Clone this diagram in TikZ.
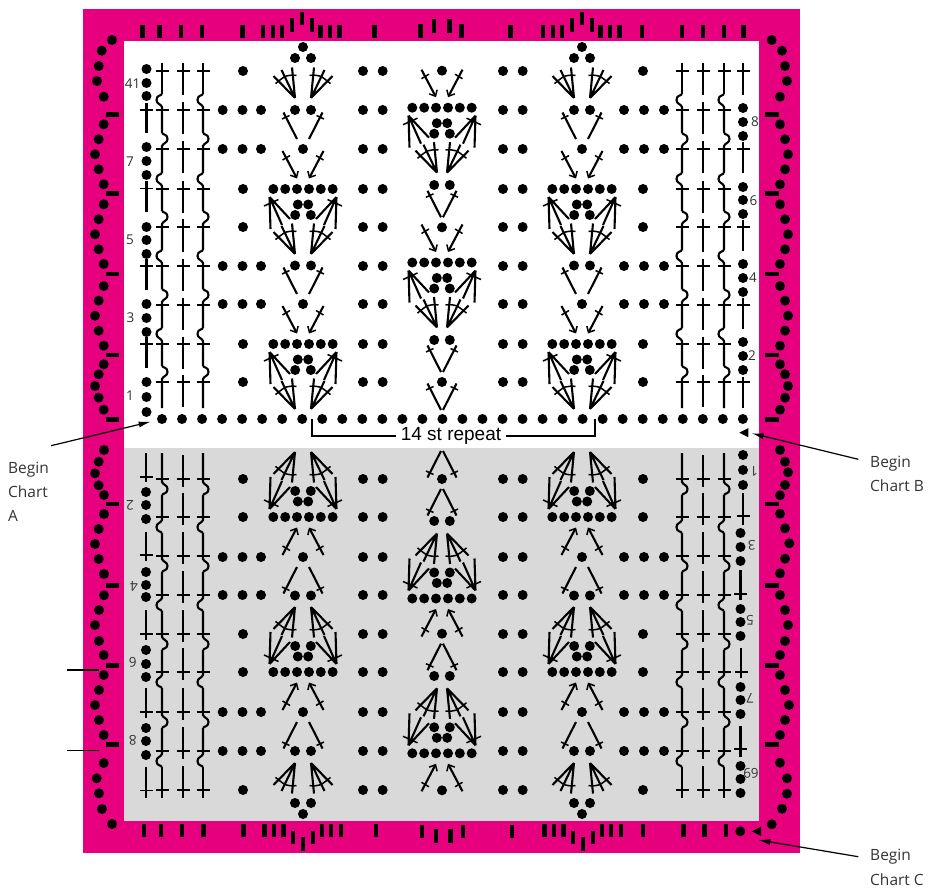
\documentclass[tikz,border=0pt]{standalone}
\usepackage{fontspec}
\setmainfont{Open Sans}
\newfontfamily\arialfont{Liberation Sans}
\usetikzlibrary{arrows.meta}
\definecolor{pinkband}{HTML}{E6007E}
\definecolor{greyfield}{HTML}{D9D9D9}
\definecolor{labelgrey}{HTML}{333333}
\tikzset{
  stem/.style={line width=2.1pt,black},
  crossbar/.style={line width=1.5pt,black},
  note/.style={line width=1.2pt,black},
  arrowstem/.style={line width=2.1pt,black,-{Straight Barb[length=5pt,width=9pt,line width=1.5pt]}},
  notearrow/.style={line width=1.2pt,black,-{Latex[length=12pt,width=6pt]}},
  chartnum/.style={inner sep=0pt,font=\fontsize{13.5}{15}\selectfont,text=labelgrey},
  beginlab/.style={inner sep=0pt,anchor=west,font=\fontsize{15.5}{18}\selectfont,text=labelgrey}
}
% ---------- helpers
\newcommand\blob[2]{\fill[black] (#1,#2) circle (5pt);}
\newcommand\fanstems{%
  \draw[stem] (0,0)--(-21.5,-22) (0,0)--(-13.5,-28) (0,0)--(-3,-30.5);
  \draw[crossbar] (-19.5,-14.4) .. controls (-9,-23) .. (1.5,-22.7);
}
% half of the big motif; origin at the centre of the six-dot row; #1 apex offset
\newcommand\halfmotif[1]{%
  \foreach \a in {6,17.8,29.7}{\fill[black] (-\a,0) circle (5pt);}
  \fill[black] (-5.2,15.5) circle (5pt);
  \fill[black] (-7.8,26) circle (5pt);
  \draw[stem] (-33.5,8)--(-32.5,40) (-33.5,8)--(-21,36) (-33.5,8)--(-13,30);
  \draw[crossbar] (-39,17)--(-24.5,10.5);
  \begin{scope}[shift={(-#1,65)}]\fanstems\end{scope}
  \draw[arrowstem] (-20.5,-38)--(-6,-10.5);
  \draw[crossbar] (-20.5,-29)--(-13,-33.5);
}
\newcommand\bigmotif[3]{%
  \begin{scope}[shift={(#1,#2)}]
    \halfmotif{#3}
    \begin{scope}[xscale=-1]\halfmotif{#3}\end{scope}
  \end{scope}}
% pair of stems running up from a point; #3 half gap
\newcommand\halfvee[1]{%
  \draw[stem] (-#1,-10)--(-#1-13.5,-36.5);
  \draw[crossbar] (-#1-15,-30)--(-#1-7.5,-33.5);
}
\newcommand\veepair[3]{%
  \begin{scope}[shift={(#1,#2)}]
    \halfvee{#3}
    \begin{scope}[xscale=-1]\halfvee{#3}\end{scope}
  \end{scope}}
\newcommand\topfan[2]{%
  \begin{scope}[shift={(#1-8,#2)}]\fanstems\end{scope}
  \begin{scope}[shift={(#1+8,#2)},xscale=-1]\fanstems\end{scope}}
\newcommand\tallst[4]{%
  \draw[stem] (#1,#2)--(#1,#3);
  \draw[crossbar] (#1-6.5,#4)--(#1+6.5,#4);}
\newcommand\plaincol[1]{%
  \foreach \r in {71,110,149,189,227,266,305,344,382}{%
    \draw[stem] (#1,\r-7.5)--(#1,\r+24.5);
    \draw[crossbar] (#1-6.5,\r)--(#1+6.5,\r);}}
\newcommand\wigcol[1]{%
  \draw[stem] (#1,63)--(#1,94);
  \draw[crossbar] (#1-6.5,71)--(#1+6.5,71);
  \foreach \r/\s/\e in {110/-1/133,149/1/173,189/-1/211,227/1/250,266/-1/289,305/1/328,344/-1/366,382/1/408}{%
    \draw[stem] (#1,\r-16) .. controls (#1+\s*1,\r-14) and (#1+\s*5.5,\r-15) .. (#1+\s*5.5,\r-10)
      .. controls (#1+\s*5.5,\r-6) and (#1+\s*1,\r-6) .. (#1,\r-3) -- (#1,\e);
    \draw[crossbar] (#1-6.5,\r)--(#1+6.5,\r);}}
% one half of the field (upper); the lower half is its mirror image
\newcommand\fieldhalf{%
  \plaincol{183}\plaincol{703}
  \wigcol{162}\wigcol{203}\wigcol{682}\wigcol{724}
  \foreach \y in {71,189,227,344,382}{\blob{243}{\y}\blob{643}{\y}}
  \foreach \y in {110,149,266,304}{\foreach \x in {222.7,242.5,261,624,644,664}{\blob{\x}{\y}}}
  \foreach \y in {71,110,149,189,227,266,304,344,382}{\foreach \x in {363,382.7,503,522.7}{\blob{\x}{\y}}}
  % outer motifs
  \foreach \c in {303,582}{%
    \blob{\c}{47}\blob{\c-8}{58}\blob{\c+8}{58}
    \topfan{\c}{98}
    \blob{\c-8}{110}\blob{\c+8}{110}
    \veepair{\c}{149}{6}
    \blob{\c}{149}
    \bigmotif{\c}{189}{8}
    \blob{\c-8}{265.5}\blob{\c+8}{265.5}
    \veepair{\c}{304}{6}
    \blob{\c}{304}
    \bigmotif{\c}{344}{8}
  }
  % middle motif
  \blob{442}{70.7}
  \bigmotif{442}{107.7}{5}
  \blob{434.2}{185}\blob{449.8}{185}
  \veepair{442}{227.3}{1}
  \blob{442}{227.3}
  \bigmotif{442}{262.5}{5}
  \blob{434.2}{340}\blob{449.8}{340}
  \veepair{442}{382}{1}
  \blob{442}{382}
  \veepair{442}{420}{1}
}
\begin{document}
\begin{tikzpicture}[x=1pt,y=-1pt]
\useasboundingbox (0,0) rectangle (930,888);
% band and field
\fill[pinkband] (83,9) rectangle (800,853);
\fill[white] (124,41) rectangle (759,448);
\fill[greyfield] (124,448) rectangle (759,821);
% band dots: left
\foreach \x/\y in {112/40,101.7/50.7,98.7/66,97/81,103.7/96.7,103.7/124.3,98.7/139.3,95/154.3,98.7/169.3,103.7/184.3,
  103.7/204.3,98.7/219.3,95/234.3,98.7/249.3,103.7/264,103.7/286,98.7/300.7,95/315.7,98.7/330.7,103.7/345.7,
  103.7/364.3,98.7/374.3,95/386,98.7/397.7,103.7/409.7,
  104/450,98.7/461.7,95/473.3,98.7/485.3,104/495,104/514,98.7/529,95/544,98.7/559,104/574,104/595.3,
  99/610,95/625,99/641,103.7/655,103.7/675,99/690,95/705,99/720,103.7/735,103.7/763,96.7/778.3,99/793.3,102/809,112/824}
  {\blob{\x}{\y}}
% band dots: right
\foreach \x/\y in {771.7/40,782/50.7,785/66,787/81,780/96.7,780/124.3,785/139.3,788/154.3,785/169.3,780/184.3,
  780/204.3,785/219.3,788/234.3,785/249.3,780/264,780/286,785/300.7,788/315.7,785/330.7,780/345.7,
  780/364.3,785/374.3,788/386,785/397.7,780/409.7,
  780/450,785/461.7,788/472.3,785/485,780/495.3,780/513.7,785/528.3,789.3/543.3,785/558.7,780/573.3,780/595,
  785/610,788/625,785/641,780/655,780/675,785/690,789/705,785/720,780/735,780/762.7,787/778.3,787/793.7,782/808.7,771.7/824.3}
  {\blob{\x}{\y}}
% band dashes
\foreach \y in {114.7,193.7,273.7,355,419.3,504,585.5,665.3,744.3}{%
  \fill[black] (105.5,\y-2.2) rectangle (119,\y+2.2);
  \fill[black] (765,\y-2.2) rectangle (778.5,\y+2.2);}
% band ticks: top
\foreach \x/\a in {142.3/25,159.3/25,180.7/25,202/25,242.3/25,263/25,272.7/25,282/25,291.7/18.3,301.7/11.7,311.7/18.3,320.3/25,329.7/25,339.3/25,374.3/25,
  420.3/24.3,434/19.3,449.3/19.3,461.3/24.3,510.3/25,
  543/25,552.7/25,562/25,571.7/18.3,581.7/11.7,591.7/18.3,600.3/25,609.7/25,619.3/25,641.7/25,681.7/25,703/25,724/25,743.3/25}
  {\fill[black] (\x-2.2,\a) rectangle (\x+2.2,\a+13.3);}
% band ticks: bottom
\foreach \x/\a in {143.7/824,161/824,182/824,203.3/824,243.3/824,264.3/824,274/824,283.3/824,293/830.7,303/837.3,313/830.7,321.7/824,331/824,341/824,375.7/824,
  421.7/825,435.7/829.3,450.3/829.3,462.7/825,511.7/825,
  544.3/824,554/824,563.3/824,573/830.7,583/837.3,593/830.7,601.7/824,611/824,621/824,643/824,683.3/824,704.3/824,725.7/824}
  {\fill[black] (\x-2.2,\a) rectangle (\x+2.2,\a+13.3);}
\blob{740.3}{831.3}
\fill[black] (751.7,831.3)--(761,826.7)--(761,835.9)--cycle;
% mirrored field
\fieldhalf
\begin{scope}[shift={(0,861)},yscale=-1]
  \fieldhalf
\end{scope}
% base row
\foreach \k in {0,...,29}{\fill[black] ({162+20.03*\k},419) circle (5pt);}
% side column top left
\foreach \y in {69,83,96,147,161,175,227,240,254,304,318,332,382,397,412}{\blob{146.5}{\y}}
\tallst{146.5}{103}{133}{110}\tallst{146.5}{181}{212}{188.7}\tallst{146.5}{259}{290}{266}\tallst{146.5}{337}{368}{344}
% side column top right
\foreach \y in {108,122,136,187,200,214,264,278,292,342,356,370}{\blob{743}{\y}}
\tallst{743}{63}{95}{71}\tallst{743}{142}{173}{149}\tallst{743}{220}{251}{227}\tallst{743}{298}{329}{305}\tallst{743}{377}{408}{382}
% side column bottom left
\foreach \y in {492,505,519,572,585,597,650,664,677,728,741,755}{\blob{146}{\y}}
\tallst{146}{453}{482}{477}\tallst{146}{532}{561}{555}\tallst{146}{610}{640}{634}\tallst{146}{688}{718}{712}\tallst{146}{767}{798}{790.5}
% side column bottom right
\foreach \y in {455,470,485}{\blob{743}{\y}}
\foreach \y in {533,547,561,609,622,636,687,700,714,766,779,793}{\blob{740.5}{\y}}
\tallst{743}{493}{525}{516}\tallst{740.5}{570}{600}{594}\tallst{741}{648}{678}{672}\tallst{740.5}{726}{757}{749}
% start marker of chart B
\fill[black] (739.3,432.7)--(748.3,428.2)--(748.3,437.2)--cycle;
% repeat bracket
\node[inner sep=0pt,outer sep=5pt,font=\arialfont\fontsize{19}{22}\selectfont] (rep) at (451,436) {14 st repeat};
\coordinate (bl) at (312.3,418.5);
\coordinate (br) at (595,418.5);
\draw[stem] (bl)|-(rep.west);
\draw[stem] (br)|-(rep.east);
% row numbers
\node[chartnum] (n41) at (132.5,84) {41};
\node[chartnum] (n7) at (130,162) {7};
\node[chartnum] (n5) at (130,240) {5};
\node[chartnum] (n3) at (130.5,318) {3};
\node[chartnum] (n1) at (130,396) {1};
\node[chartnum] (n8) at (755,122) {8};
\node[chartnum] (n6) at (753.5,201) {6};
\node[chartnum] (n4) at (753,278) {4};
\node[chartnum] (n2) at (752,356) {2};
\node[chartnum,rotate=180] (r2) at (130,505.7) {2};
\node[chartnum,rotate=180] (r4) at (134,586.7) {4};
\node[chartnum,rotate=180] (r6) at (132.7,662.3) {6};
\node[chartnum,rotate=180] (r8) at (132.7,740) {8};
\node[chartnum,rotate=180] (s1) at (754,471) {1};
\node[chartnum,rotate=180] (s3) at (751.7,545.7) {3};
\node[chartnum,rotate=180] (s5) at (750,620) {5};
\node[chartnum,rotate=180] (s7) at (750,698) {7};
\node[chartnum,rotate=180] (s69) at (751,773) {69};
% notes
\node[beginlab] (ba1) at (8,470) {Begin};
\node[beginlab] (ba2) at (8,492) {Chart};
\node[beginlab] (ba3) at (8,516) {A};
\node[beginlab] (bb1) at (870,463.7) {Begin};
\node[beginlab] (bb2) at (870,486) {Chart B};
\node[beginlab] (bc1) at (870,857) {Begin};
\node[beginlab] (bc2) at (870,879.5) {Chart C};
\coordinate (ta) at (150.7,421.7);
\coordinate (fa) at (51,445.7);
\coordinate (tb) at (751.7,433.3);
\coordinate (fb) at (858.3,459.3);
\coordinate (tc) at (758.3,840);
\coordinate (fc) at (858.3,856.7);
\draw[notearrow] (fa)--(ta);
\draw[notearrow] (fb)--(tb);
\draw[notearrow] (fc)--(tc);
% row markers at the left
\coordinate (m1a) at (66.7,670);\coordinate (m1b) at (99.3,670);
\coordinate (m2a) at (66.7,750.3);\coordinate (m2b) at (99.3,750.3);
\draw[note] (m1a)--(m1b);
\draw[note] (m2a)--(m2b);
\end{tikzpicture}
\end{document}
